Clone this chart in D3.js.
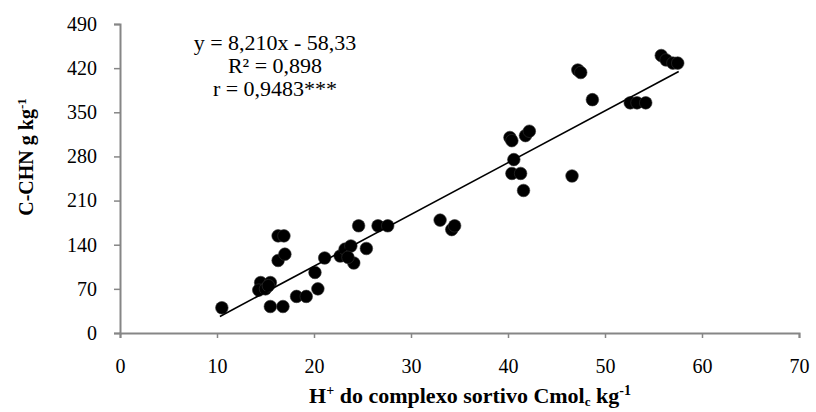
<!DOCTYPE html>
<html lang="pt">
  <head>
    <meta charset="UTF-8" />
    <title>C-CHN vs H+</title>
    <style>
      body { margin: 0; background: #fff; }
      text { font-family: "Liberation Serif", "Times New Roman", serif; }
    </style>
  </head>
  <body>
    <svg id="svg" width="816" height="412"></svg>

    <script src="https://cdn.jsdelivr.net/npm/d3@7"></script>
    <script>
      const WIDTH = 816;
      const HEIGHT = 412;

      // tick labels
      const X_TICKS = [0, 10, 20, 30, 40, 50, 60, 70];
      const Y_TICKS = [0, 70, 140, 210, 280, 350, 420, 490];

      // H+ do complexo sortivo (Cmolc/kg)
      const hPlus = [
        10.5, 14.5, 15.5, 14.3, 15.0, 15.3, 15.5, 16.8, 16.3, 16.9,
        16.3, 17.0, 18.2, 19.2, 20.1, 20.4, 21.1, 22.7, 23.2, 23.8,
        24.1, 23.5, 25.4, 24.6, 26.6, 27.6, 33.0, 34.2, 34.5, 40.2,
        40.4, 41.8, 42.2, 40.6, 40.4, 41.3, 41.6, 46.6, 47.2, 47.5,
        48.7, 52.6, 53.3, 54.2, 55.8, 56.3, 57.0, 57.5,
      ];
      // C-CHN (g/kg)
      const cChn = [
        40, 80, 80, 68, 70, 75, 42, 42, 154, 154,
        115, 125, 58, 58, 96, 70, 119, 122, 133, 138,
        111, 120, 134, 170, 170, 170, 179, 164, 170, 310,
        305, 313, 320, 275, 253, 253, 226, 249, 417, 413,
        370, 365, 365, 365, 440, 433, 428, 428,
      ];

      // linear trend y = a x + b
      const SLOPE = 8.21;
      const INTERCEPT = -58.33;
      const TREND_X = [10.3, 57.6];
      const EQ_LINES = ["y = 8,210x - 58,33", "R² = 0,898", "r = 0,9483***"];

      const svg = d3.select("#svg");

      const x = d3.scaleLinear().domain([0, 70]).range([120, 799]);
      const y = d3.scaleLinear().domain([0, 490]).range([333, 24]);

      const axisColor = "#868686";

      // axes
      const bottomAxis = d3.axisBottom(x).tickValues(X_TICKS).tickSize(5).tickPadding(21);
      const leftAxis = d3.axisLeft(y).tickValues(Y_TICKS).tickSize(6).tickPadding(17);

      const gx = svg.append("g").attr("transform", `translate(0, ${y(0)})`).call(bottomAxis);
      const gy = svg.append("g").attr("transform", `translate(${x(0)}, 0)`).call(leftAxis);

      [gx, gy].forEach((g) => {
        g.select(".domain").attr("stroke", axisColor).attr("stroke-width", 2);
        g.selectAll(".tick line").attr("stroke", axisColor).attr("stroke-width", 1.5);
        g.selectAll(".tick text")
          .attr("fill", "#000")
          .style("font-size", "20px")
          .style("font-family", "Liberation Serif, serif");
      });

      // points
      const points = hPlus.map((v, i) => ({ x: v, y: cChn[i] }));
      svg
        .append("g")
        .selectAll("circle")
        .data(points)
        .join("circle")
        .attr("cx", (d) => x(d.x))
        .attr("cy", (d) => y(d.y))
        .attr("r", 6.3)
        .attr("fill", "#000")
        .attr("stroke", "#333")
        .attr("stroke-width", 0.6);

      // trend line
      const line = d3
        .line()
        .x((d) => x(d))
        .y((d) => y(SLOPE * d + INTERCEPT));
      svg
        .append("path")
        .attr("d", line(TREND_X))
        .attr("fill", "none")
        .attr("stroke", "#000")
        .attr("stroke-width", 1.6);

      // equation text
      svg
        .append("g")
        .selectAll("text")
        .data(EQ_LINES)
        .join("text")
        .attr("x", 275)
        .attr("y", (d, i) => 50 + i * 23)
        .attr("text-anchor", "middle")
        .style("font-size", "22px")
        .text((d) => d);

      // x axis title
      const xt = svg
        .append("text")
        .attr("x", 470)
        .attr("y", 403)
        .attr("text-anchor", "middle")
        .style("font-size", "22px")
        .style("font-weight", "bold");
      xt.append("tspan").text("H");
      xt.append("tspan").attr("dy", -8).style("font-size", "14px").text("+");
      xt.append("tspan").attr("dy", 8).text(" do complexo sortivo Cmol");
      xt.append("tspan").attr("dy", 3).style("font-size", "13px").text("c");
      xt.append("tspan").attr("dy", -3).text(" kg");
      xt.append("tspan").attr("dy", -8).style("font-size", "14px").text("-1");

      // y axis title
      const yt = svg
        .append("text")
        .attr("transform", "translate(33, 157) rotate(-90)")
        .attr("text-anchor", "middle")
        .style("font-size", "20px")
        .style("font-weight", "bold");
      yt.append("tspan").text("C-CHN g kg");
      yt.append("tspan").attr("dy", -7).style("font-size", "13px").text("-1");
    </script>
  </body>
</html>
